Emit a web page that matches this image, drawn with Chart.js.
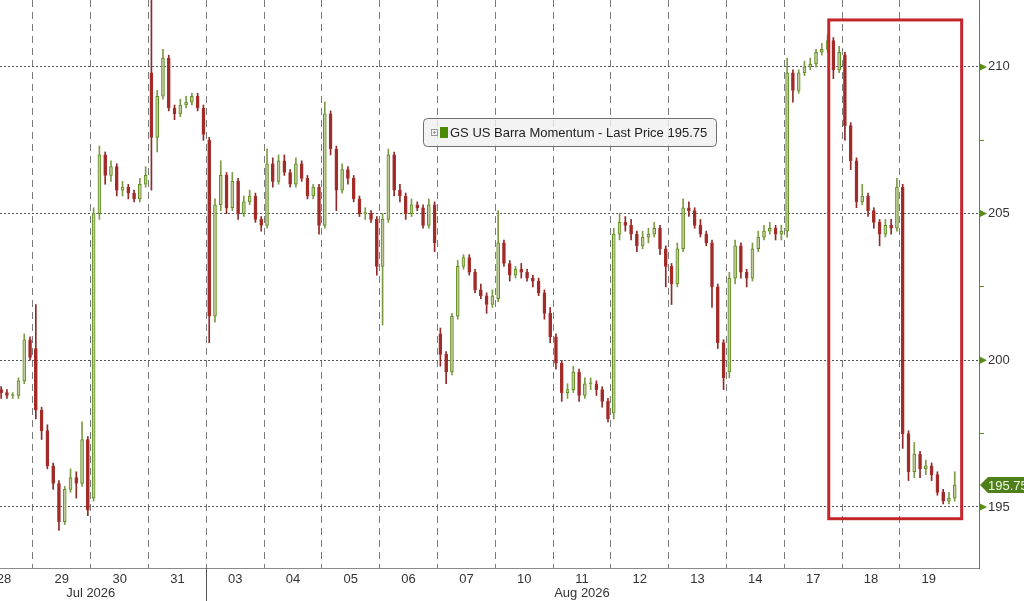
<!DOCTYPE html>
<html>
<head>
<meta charset="utf-8">
<title>GS US Barra Momentum</title>
<script src="https://cdn.jsdelivr.net/npm/chart.js@4.4.1/dist/chart.umd.min.js"></script>
<style>
  html, body { margin: 0; padding: 0; background: #fff; }
  #wrap { width: 1024px; height: 601px; position: relative; }
</style>
</head>
<body>
<div id="wrap"><canvas id="chart"></canvas></div>
<script>
// trading days shown on the x axis (each row below = one day, 10 intraday bars)
const dayLabels = ['28', '29', '30', '31', '03', '04', '05', '06', '07', '10', '11', '12', '13', '14', '17', '18', '19'];
const monthLabels = ['Jul 2026', 'Aug 2026'];
const monthLabelAt = [2, 10.5];   // in day units
const monthStartDay = 4;          // '03' is the first August day

const yMajorTicks = [195, 200, 205, 210];
const yMinorTicks = [197.5, 202.5, 207.5];
const legendText = 'GS US Barra Momentum - Last Price 195.75';
const lastPrice = 195.75;

const opens = [
  [null, null, null, null, 199.0, 198.9, 198.8, 198.8, 199.3, 200.7],
  [200.4, 198.3, 197.6, 196.4, 195.8, 194.5, 195.6, 196.0, 195.8, 197.3],
  [195.3, 205.0, 207.0, 206.3, 206.6, 205.8, 205.9, 205.7, 205.5, 206.0],
  [209.8, 207.6, 209.0, 210.3, 208.6, 208.4, 208.7, 208.8, 209.0, 208.6],
  [207.5, 201.5, 205.3, 206.3, 205.2, 206.1, 205.0, 205.4, 205.6, 204.8],
  [204.6, 206.7, 206.1, 206.8, 206.4, 206.0, 206.7, 206.2, 205.6, 205.9],
  [204.6, 208.4, 207.2, 205.8, 206.5, 206.2, 205.5, 205.0, 205.0, 204.8],
  [203.2, 204.8, 207.0, 205.8, 205.6, 205.0, 205.3, 205.2, 204.6, 205.3],
  [200.9, 200.2, 199.6, 201.5, 203.2, 203.5, 203.0, 202.4, 202.2, 201.9],
  [202.1, 204.0, 203.3, 202.9, 203.1, 203.0, 202.8, 202.7, 202.3, 201.6],
  [200.8, 199.9, 198.9, 199.0, 199.6, 198.8, 199.2, 199.2, 199.0, 198.6],
  [198.2, 204.3, 204.7, 204.6, 204.3, 203.9, 204.2, 204.3, 204.5, 203.8],
  [203.2, 202.6, 203.8, 205.2, 205.1, 204.6, 204.3, 204.0, 202.5, 200.6],
  [199.6, 202.8, 203.9, 203.0, 202.8, 203.8, 204.2, 204.4, 204.5, 204.3],
  [204.4, 209.8, 209.2, 209.8, 210.0, 210.1, 210.5, 210.6, 210.9, 209.9],
  [210.4, 208.0, 206.8, 205.4, 205.6, 205.1, 204.7, 204.3, 204.6, 204.5],
  [205.9, 197.5, 196.2, 196.8, 196.3, 196.4, 196.1, 195.5, 195.2, 195.3]
];
const highs = [
  [null, null, null, null, 199.1, 199.0, 198.9, 199.4, 200.9, 200.8],
  [201.9, 198.4, 197.8, 196.5, 195.9, 195.7, 196.3, 196.2, 197.9, 197.4],
  [205.2, 207.3, 207.1, 206.8, 206.7, 206.1, 206.0, 205.8, 206.2, 206.6],
  [212.3, 209.2, 210.6, 210.4, 208.7, 208.9, 209.0, 209.1, 209.1, 208.7],
  [207.6, 205.5, 206.8, 206.4, 206.4, 206.2, 205.6, 205.8, 205.7, 204.9],
  [207.2, 206.9, 207.0, 207.0, 206.5, 206.9, 206.8, 206.3, 206.0, 206.0],
  [208.8, 208.5, 207.3, 206.7, 206.6, 206.3, 205.6, 205.2, 205.1, 204.9],
  [205.0, 207.2, 207.1, 206.0, 205.7, 205.5, 205.4, 205.3, 205.5, 205.4],
  [201.1, 200.3, 201.6, 203.4, 203.6, 203.6, 203.1, 202.6, 202.3, 202.4],
  [205.1, 204.1, 203.4, 203.2, 203.3, 203.1, 202.9, 202.8, 202.4, 201.8],
  [200.9, 200.0, 199.2, 199.8, 199.7, 199.4, 199.4, 199.3, 199.1, 198.7],
  [204.5, 205.0, 204.9, 204.8, 204.4, 204.4, 204.5, 204.7, 204.6, 203.9],
  [203.3, 204.0, 205.5, 205.4, 205.2, 204.8, 204.4, 204.1, 202.6, 200.7],
  [203.0, 204.1, 204.0, 203.1, 204.0, 204.4, 204.6, 204.7, 204.6, 204.6],
  [210.3, 209.9, 209.9, 210.2, 210.3, 210.6, 210.8, 211.1, 211.0, 210.7],
  [210.5, 208.1, 206.9, 206.0, 205.7, 205.2, 204.8, 204.8, 204.8, 206.2],
  [206.0, 197.6, 197.2, 196.9, 196.6, 196.5, 196.2, 195.6, 195.5, 196.2]
];
const lows = [
  [null, null, null, null, 198.7, 198.7, 198.7, 198.7, 199.2, 200.0],
  [198.0, 197.3, 196.3, 195.6, 194.2, 194.4, 195.5, 195.3, 195.7, 194.7],
  [195.2, 204.8, 206.0, 206.1, 205.6, 205.6, 205.5, 205.4, 205.4, 205.9],
  [205.8, 207.1, 208.9, 208.5, 208.2, 208.3, 208.6, 208.7, 208.5, 207.5],
  [200.6, 201.3, 205.1, 205.0, 205.1, 204.8, 204.9, 205.3, 204.7, 204.4],
  [204.5, 205.9, 206.0, 206.3, 205.9, 205.9, 206.1, 205.5, 205.5, 204.3],
  [204.5, 207.0, 205.1, 205.7, 206.0, 205.4, 204.9, 204.8, 204.7, 202.9],
  [201.2, 204.7, 205.6, 205.4, 204.8, 204.9, 205.1, 204.5, 204.5, 203.7],
  [199.8, 199.2, 199.5, 201.4, 203.1, 202.9, 202.3, 202.1, 201.6, 201.8],
  [202.0, 203.2, 202.7, 202.8, 202.8, 202.7, 202.5, 202.2, 201.4, 200.6],
  [199.7, 198.6, 198.7, 198.9, 198.6, 198.7, 199.0, 198.8, 198.4, 197.9],
  [198.0, 204.1, 204.4, 204.1, 203.7, 203.8, 204.0, 204.2, 203.6, 202.5],
  [201.9, 202.5, 203.7, 204.9, 204.5, 204.2, 203.9, 201.8, 200.4, 199.0],
  [199.4, 202.6, 202.8, 202.5, 202.7, 203.7, 204.1, 204.3, 204.1, 204.1],
  [204.2, 208.8, 209.1, 209.7, 209.9, 210.0, 210.4, 210.5, 209.6, 209.8],
  [207.5, 206.5, 205.2, 205.3, 204.9, 204.5, 203.9, 204.2, 204.3, 204.4],
  [197.0, 195.9, 196.0, 196.0, 196.1, 195.9, 195.4, 195.1, 195.1, 195.2]
];
const closes = [
  [null, null, null, null, 198.9, 198.8, 198.8, 199.3, 200.7, 200.1],
  [198.3, 197.6, 196.4, 195.8, 194.5, 195.6, 196.0, 195.8, 197.3, 194.9],
  [205.0, 207.0, 206.3, 206.6, 205.8, 205.9, 205.7, 205.5, 206.0, 206.3],
  [207.6, 209.0, 210.3, 208.6, 208.4, 208.7, 208.8, 209.0, 208.6, 207.7],
  [201.5, 205.3, 206.3, 205.2, 206.1, 205.0, 205.4, 205.6, 204.8, 204.6],
  [206.7, 206.1, 206.8, 206.4, 206.0, 206.7, 206.2, 205.6, 205.9, 204.6],
  [208.4, 207.2, 205.8, 206.5, 206.2, 205.5, 205.0, 205.0, 204.8, 203.2],
  [204.8, 207.0, 205.8, 205.6, 205.0, 205.3, 205.2, 204.6, 205.3, 204.0],
  [200.2, 199.6, 201.5, 203.2, 203.5, 203.0, 202.4, 202.2, 201.9, 202.2],
  [204.0, 203.3, 202.9, 203.1, 203.0, 202.8, 202.7, 202.3, 201.6, 200.8],
  [199.9, 198.9, 199.0, 199.6, 198.8, 199.2, 199.2, 199.0, 198.6, 198.0],
  [204.3, 204.7, 204.6, 204.3, 203.9, 204.2, 204.3, 204.5, 203.8, 203.2],
  [202.6, 203.8, 205.2, 205.1, 204.6, 204.3, 204.0, 202.5, 200.6, 199.4],
  [202.8, 203.9, 203.0, 202.8, 203.8, 204.2, 204.4, 204.5, 204.3, 204.4],
  [209.8, 209.2, 209.8, 210.0, 210.1, 210.5, 210.6, 210.9, 209.9, 210.5],
  [208.0, 206.8, 205.4, 205.6, 205.1, 204.7, 204.3, 204.6, 204.5, 205.9],
  [197.5, 196.2, 196.8, 196.3, 196.4, 196.1, 195.5, 195.2, 195.3, 195.75]
];

// red highlight box (x in day units, y in price)
const highlight = { x1: 14.77, x2: 17.07, yTop: 211.6, yBottom: 194.6 };

const UP_FILL = '#c2cb9c', UP_LINE = '#5f8f1e';
const DOWN_FILL = '#9e2a2a', DOWN_LINE = '#a8302b';
const FONT = "'Liberation Sans', Arial, sans-serif";

// Build wick and body bars from the OHLC rows
const barsPerDay = 10;
const wickData = [];
const bodyData = [];
const isUp = [];
dayLabels.forEach((d, i) => {
    for (let k = 0; k < barsPerDay; k++) {
        const o = opens[i][k], c = closes[i][k];
        if (c == null) continue;
        const x = i + (k + 0.5) / barsPerDay;
        wickData.push({ x: x, y: [lows[i][k], highs[i][k]] });
        bodyData.push({ x: x, y: [Math.min(o, c), Math.max(o, c)] });
        isUp.push(c >= o);
    }
});

const xTicks = [];
for (let i = 0; i < dayLabels.length; i++) {
    xTicks.push(i + 0.5);
    if (i > 0) xTicks.push(i);
}

// Overlay: month row, axis arrows, last price tag, legend, highlight box
const overlay = {
    id: 'overlay',
    afterDraw(chart) {
        const { ctx, chartArea: a, scales: { x, y } } = chart;
        ctx.save();

        // month separator and month labels
        const sepX = Math.round(x.getPixelForValue(monthStartDay)) + 0.5;
        ctx.strokeStyle = '#555';
        ctx.lineWidth = 1;
        ctx.beginPath();
        ctx.moveTo(sepX, a.bottom);
        ctx.lineTo(sepX, chart.height);
        ctx.stroke();
        ctx.fillStyle = '#333';
        ctx.font = '13px ' + FONT;
        ctx.textAlign = 'center';
        ctx.textBaseline = 'middle';
        monthLabels.forEach((m, i) => ctx.fillText(m, x.getPixelForValue(monthLabelAt[i]), 593));

        // arrows on the price axis
        ctx.fillStyle = '#5a8a1a';
        yMajorTicks.forEach(v => {
            const py = y.getPixelForValue(v);
            ctx.beginPath();
            ctx.moveTo(a.right + 1, py - 3.5);
            ctx.lineTo(a.right + 8, py);
            ctx.lineTo(a.right + 1, py + 3.5);
            ctx.closePath();
            ctx.fill();
        });

        // last price tag
        const ly = y.getPixelForValue(lastPrice);
        ctx.fillStyle = '#4e7f1a';
        ctx.beginPath();
        ctx.moveTo(a.right + 1, ly);
        ctx.lineTo(a.right + 9, ly - 8);
        ctx.lineTo(chart.width, ly - 8);
        ctx.lineTo(chart.width, ly + 8);
        ctx.lineTo(a.right + 9, ly + 8);
        ctx.closePath();
        ctx.fill();
        ctx.fillStyle = '#eef8e0';
        ctx.textAlign = 'left';
        ctx.fillText(lastPrice.toFixed(2), a.right + 9, ly + 1);

        // red highlight box
        ctx.strokeStyle = '#c4262a';
        ctx.lineWidth = 3;
        const bx1 = x.getPixelForValue(highlight.x1), bx2 = x.getPixelForValue(highlight.x2);
        const by1 = y.getPixelForValue(highlight.yTop), by2 = y.getPixelForValue(highlight.yBottom);
        ctx.strokeRect(bx1, by1, bx2 - bx1, by2 - by1);

        // legend box
        ctx.lineWidth = 1;
        ctx.fillStyle = 'rgba(240,240,240,0.82)';
        ctx.strokeStyle = '#6e6e6e';
        ctx.beginPath();
        ctx.roundRect(423.5, 118.5, 293, 28, 4);
        ctx.fill();
        ctx.stroke();
        ctx.strokeStyle = '#999';
        ctx.strokeRect(431.5, 129.5, 6, 6);
        ctx.beginPath();
        ctx.moveTo(433, 132.5); ctx.lineTo(436, 132.5);
        ctx.moveTo(434.5, 131); ctx.lineTo(434.5, 134);
        ctx.stroke();
        ctx.fillStyle = '#4a8a00';
        ctx.fillRect(440, 127, 8, 11);
        ctx.fillStyle = '#222';
        ctx.font = '13px ' + FONT;
        ctx.textAlign = 'left';
        ctx.fillText(legendText, 450, 133);

        ctx.restore();
    }
};

new Chart(document.getElementById('chart').getContext('2d'), {
    type: 'bar',
    data: {
        datasets: [
            {
                label: 'wick',
                data: wickData,
                grouped: false,
                barThickness: 1,
                backgroundColor: c => isUp[c.dataIndex] ? '#7d9a45' : '#8e2a2a',
                order: 2
            },
            {
                label: 'body',
                data: bodyData,
                grouped: false,
                barThickness: 3,
                minBarLength: 1,
                backgroundColor: c => isUp[c.dataIndex] ? UP_FILL : DOWN_FILL,
                borderColor: c => isUp[c.dataIndex] ? UP_LINE : DOWN_LINE,
                borderWidth: 1,
                borderSkipped: false,
                order: 1
            }
        ]
    },
    options: {
        responsive: true,
        maintainAspectRatio: false,
        animation: false,
        layout: { padding: 0, autoPadding: false },
        plugins: {
            legend: { display: false },
            tooltip: { enabled: false }
        },
        scales: {
            x: {
                type: 'linear',
                offset: false,
                min: 0.43,
                max: 17.37,
                afterBuildTicks: axis => { axis.ticks = xTicks.map(v => ({ value: v })); },
                afterFit: axis => {
                    axis.height = 33;
                    axis.paddingLeft = 0;
                    axis.paddingRight = 0;
                },
                grid: {
                    offset: false,
                    color: c => (c.tick && Number.isInteger(c.tick.value)) ? '#7a7a7a' : 'rgba(0,0,0,0)',
                    lineWidth: 1,
                    drawTicks: false
                },
                border: { color: '#8a8a8a', width: 1, dash: [7, 5] },
                ticks: {
                    autoSkip: false,
                    maxRotation: 0,
                    padding: 4,
                    color: '#333',
                    font: { family: FONT, size: 13 },
                    callback: v => Number.isInteger(v) ? '' : dayLabels[Math.floor(v)]
                }
            },
            y: {
                position: 'right',
                min: 192.92,
                max: 212.28,
                afterBuildTicks: axis => {
                    axis.ticks = yMajorTicks.concat(yMinorTicks).sort((p, q) => p - q).map(v => ({ value: v }));
                },
                afterFit: axis => {
                    axis.width = 45;
                    axis.paddingTop = 0;
                    axis.paddingBottom = 0;
                },
                grid: {
                    color: c => (c.tick && yMajorTicks.includes(c.tick.value)) ? '#555' : 'rgba(0,0,0,0)',
                    lineWidth: 1,
                    drawTicks: true,
                    tickLength: 5,
                    tickColor: '#5a8a1a'
                },
                border: { color: '#5a8a1a', width: 1, dash: [2, 2] },
                ticks: {
                    padding: 4,
                    color: '#333',
                    font: { family: FONT, size: 13 },
                    callback: v => yMajorTicks.includes(v) ? String(v) : ''
                }
            }
        }
    },
    plugins: [overlay]
});
</script>
</body>
</html>
